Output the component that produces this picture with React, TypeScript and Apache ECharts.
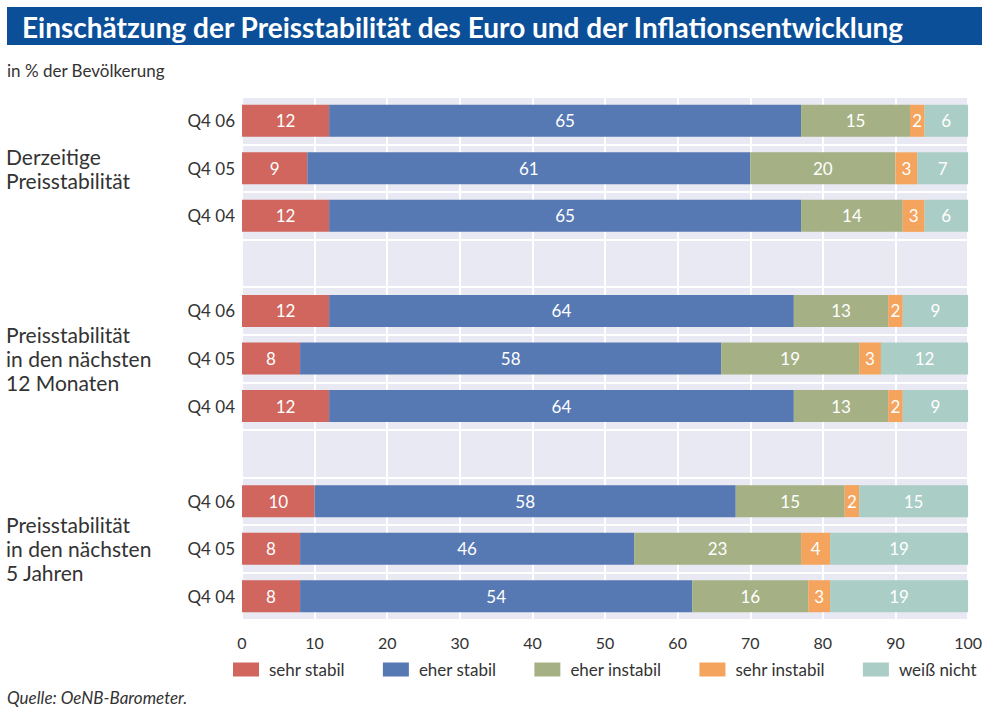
import React, { useEffect, useRef } from "react";
import * as echarts from "echarts";

const rowKeys = ["g1a", "g1b", "g1c", "s1", "g2a", "g2b", "g2c", "s2", "g3a", "g3b", "g3c"];
const rowLabels = ["Q4 06", "Q4 05", "Q4 04", "", "Q4 06", "Q4 05", "Q4 04", "", "Q4 06", "Q4 05", "Q4 04"];
const groupLabels = ["Derzeitige\nPreisstabilität", "Preisstabilität\nin den nächsten\n12 Monaten", "Preisstabilität\nin den nächsten\n5 Jahren"];

const seriesNames = ["sehr stabil", "eher stabil", "eher instabil", "sehr instabil", "weiß nicht"];
const sehrStabil = [12, 9, 12, null, 12, 8, 12, null, 10, 8, 8];
const eherStabil = [65, 61, 65, null, 64, 58, 64, null, 58, 46, 54];
const eherInstabil = [15, 20, 14, null, 13, 19, 13, null, 15, 23, 16];
const sehrInstabil = [2, 3, 3, null, 2, 3, 2, null, 2, 4, 3];
const weissNicht = [6, 7, 6, null, 9, 12, 9, null, 15, 19, 19];
const xTicks = [0, 10, 20, 30, 40, 50, 60, 70, 80, 90, 100];

const colors = ["#d0665e", "#5679b4", "#a5b185", "#f5a45d", "#aacdc5"];
const FONT = "Lato, 'DejaVu Sans', sans-serif";

export default function App() {
  const ref = useRef<HTMLDivElement>(null);
  useEffect(() => {
    if (!ref.current) return;
    const chart = echarts.init(ref.current, null, { renderer: "svg" });
    const allData = [sehrStabil, eherStabil, eherInstabil, sehrInstabil, weissNicht];
    const series = seriesNames.map((name, i) => ({
      name,
      type: "bar",
      stack: "total",
      barWidth: 32,
      data: allData[i],
      itemStyle: { color: colors[i] },
      label: {
        show: true,
        position: "inside",
        color: "#ffffff",
        fontSize: 17,
        fontFamily: FONT,
        formatter: (p: any) => (p.value == null ? "" : String(p.value)),
      },
    }));
    const gridTop = 97;
    const gridBottom = 93;
    const plotH = 713 - gridTop - gridBottom;
    const band = plotH / rowKeys.length;
    const groupCenters = [1, 5, 9];
    chart.setOption({
      animation: false,
      backgroundColor: "#ffffff",
      grid: {
        left: 242,
        right: 13,
        top: gridTop,
        bottom: gridBottom,
        show: true,
        backgroundColor: "#e8e9f2",
        borderWidth: 0,
      },
      xAxis: {
        type: "value",
        min: 0,
        max: 100,
        interval: 10,
        axisLine: { show: false },
        axisTick: { show: false },
        splitLine: { show: true, lineStyle: { color: "#ffffff", width: 2 } },
        axisLabel: {
          color: "#333333",
          fontSize: 16,
          fontFamily: FONT,
          margin: 14,
          formatter: (v: number) => (xTicks.includes(v) ? String(v) : ""),
        },
      },
      yAxis: {
        type: "category",
        inverse: true,
        data: rowKeys,
        axisLine: { show: false },
        axisTick: { show: false },
        splitLine: { show: true, lineStyle: { color: "#ffffff", width: 2 } },
        axisLabel: {
          color: "#333333",
          fontSize: 17,
          fontFamily: FONT,
          margin: 7,
          formatter: (v: string) => rowLabels[rowKeys.indexOf(v)],
        },
      },
      legend: {
        left: 233,
        top: 661,
        padding: 0,
        itemWidth: 26,
        itemHeight: 14,
        itemGap: 38,
        icon: "rect",
        textStyle: { color: "#333333", fontSize: 17, fontFamily: FONT, padding: [0, 0, 0, 5] },
        data: seriesNames,
      },
      graphic: [
        { type: "rect", shape: { x: 7, y: 7, width: 975, height: 38 }, style: { fill: "#0b4f98" } },
        {
          type: "text",
          x: 22,
          y: 27,
          style: {
            text: "Einschätzung der Preisstabilität des Euro und der Inflationsentwicklung",
            fill: "#ffffff",
            font: `bold 28px ${FONT}`,
            verticalAlign: "middle",
          },
        },
        {
          type: "text",
          x: 7,
          y: 70,
          style: { text: "in % der Bevölkerung", fill: "#333333", font: `17px ${FONT}`, verticalAlign: "middle" },
        },
        ...groupLabels.map((t, i) => ({
          type: "text",
          x: 6,
          y: gridTop + band * (groupCenters[i] + 0.5),
          style: {
            text: t,
            fill: "#333333",
            font: `21px ${FONT}`,
            lineHeight: 24,
            verticalAlign: "middle",
          },
        })),
        {
          type: "text",
          x: 7,
          y: 697,
          style: { text: "Quelle: OeNB-Barometer.", fill: "#333333", font: `italic 17px ${FONT}`, verticalAlign: "middle" },
        },
      ],
      series,
    });
    return () => chart.dispose();
  }, []);
  return <div ref={ref} style={{ position: "fixed", left: 0, top: 0, width: 985, height: 713 }} />;
}
